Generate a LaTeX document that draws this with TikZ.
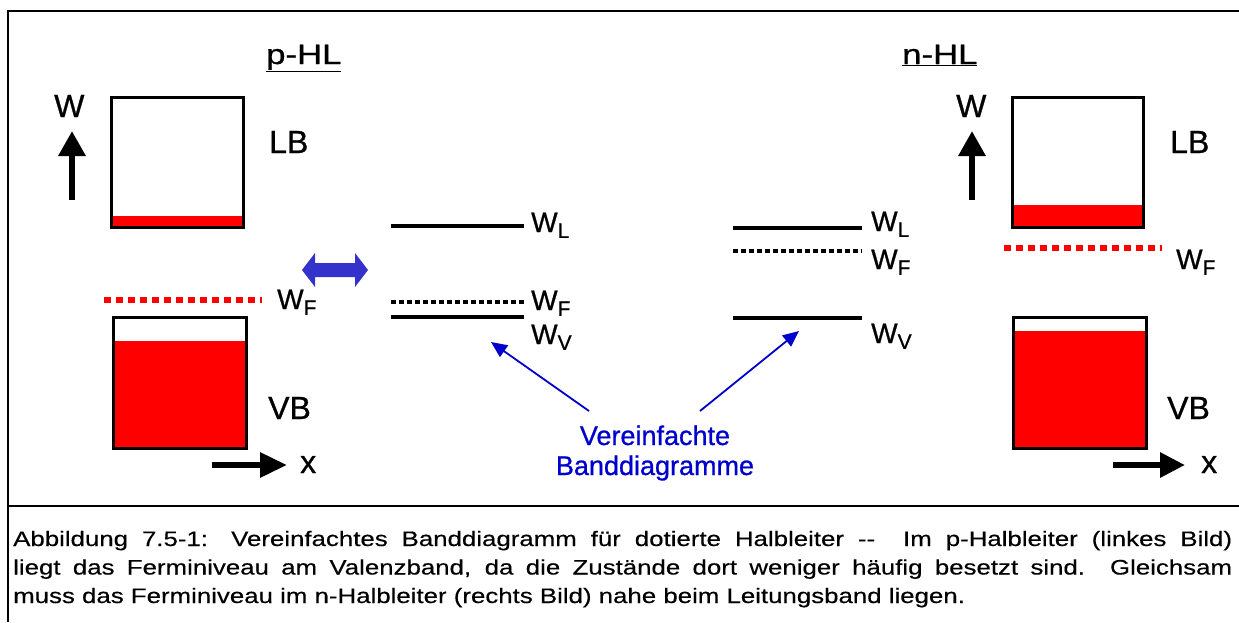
\documentclass[tikz,border=0pt]{standalone}
\usepackage{fontspec}
\setmainfont{Liberation Sans}
\newfontfamily\diagfont{Liberation Sans}[FakeBold=0.8]
\newfontfamily\headfont{Liberation Sans}[FakeBold=0.8,FakeStretch=1.24]
\newfontfamily\capfont{Liberation Sans}[FakeBold=0.4,FakeStretch=1.23]
\usetikzlibrary{arrows.meta}
\definecolor{fillred}{RGB}{255,0,0}
\definecolor{arrowblue}{RGB}{0,0,204}
\definecolor{blockblue}{RGB}{51,51,204}
\newcommand{\lvlsub}[1]{\textsubscript{\fontsize{21}{21}\selectfont #1}}
\begin{document}
\begin{tikzpicture}[x=1pt,y=-1pt,
  frame/.style={line width=2.6pt,black},
  bandbox/.style={line width=3pt,black},
  level/.style={line width=4.5pt,black},
  fermidots/.style={line width=4.5pt,black,dash pattern=on 5pt off 3pt},
  redfermi/.style={line width=6pt,fillred,dash pattern=on 6.5pt off 5.5pt},
  axis/.style={line width=6pt,black,-{Triangle[length=25pt,width=26pt]}},
  pointer/.style={line width=1.8pt,arrowblue,-{Triangle[length=16pt,width=14pt]}},
  big/.style={inner sep=0pt,anchor=base west,font=\diagfont\fontsize{32}{32}\selectfont},
  lvl/.style={inner sep=0pt,anchor=base west,font=\diagfont\fontsize{28}{28}\selectfont},
  title/.style={inner sep=0pt,anchor=base west,font=\headfont\fontsize{28}{28}\selectfont},
]
\useasboundingbox (0,0) rectangle (1239,622);

% outer frame and caption separator
\draw[frame] (7,11) -- (1239,11);
\draw[frame] (8,10) -- (8,622);
\draw[frame] (7,506) -- (1239,506);

% ---------------- p-type semiconductor ----------------
\node[title] (ptitle) at (266,64) {\underline{p-HL}};
\fill[fillred] (111,216) rectangle (243,227);
\draw[bandbox] (111,97) rectangle (243,227);
\node[big] (pLB) at (269,153) {LB};
\fill[fillred] (113,341) rectangle (246,448);
\draw[bandbox] (113,317) rectangle (246,448);
\node[big] (pVB) at (268,419) {VB};
\node[big] (pW) at (54,117) {W};
\coordinate (pWa) at (72,200);
\coordinate (pWb) at (72,131);
\draw[axis] (pWa) -- (pWb);
\coordinate (pXa) at (212,465);
\coordinate (pXb) at (287,465);
\draw[axis,-{Triangle[length=27pt,width=24pt]}] (pXa) -- (pXb);
\node[big] (pX) at (300,473) {x};
\coordinate (pFa) at (104,300);
\coordinate (pFb) at (262,300);
\draw[redfermi] (pFa) -- (pFb);
\node[lvl] (pWF) at (277,309) {W\lvlsub{F}};

% double block arrow between band picture and simplified diagram
\fill[blockblue] (302,270) -- (315,253) -- (315,263) -- (355,263) -- (355,253)
  -- (368,270) -- (355,287) -- (355,277) -- (315,277) -- (315,287) -- cycle;

% simplified p-type diagram
\coordinate (pLa) at (391,226);
\coordinate (pLb) at (524,226);
\draw[level] (pLa) -- (pLb);
\node[lvl] (pWL) at (531,232) {W\lvlsub{L}};
\coordinate (pSFa) at (391,302);
\coordinate (pSFb) at (524,302);
\draw[fermidots] (pSFa) -- (pSFb);
\node[lvl] (pWF2) at (531,310) {W\lvlsub{F}};
\coordinate (pVa) at (391,317);
\coordinate (pVb) at (524,317);
\draw[level] (pVa) -- (pVb);
\node[lvl] (pWV) at (531,344) {W\lvlsub{V}};

% ---------------- n-type semiconductor ----------------
\node[title] (ntitle) at (902,64) {\underline{n-HL}};
\fill[fillred] (1012,205) rectangle (1143,227);
\draw[bandbox] (1012,97) rectangle (1143,227);
\node[big] (nLB) at (1170,153) {LB};
\fill[fillred] (1013,331) rectangle (1146,448);
\draw[bandbox] (1013,317) rectangle (1146,448);
\node[big] (nVB) at (1167,419) {VB};
\node[big] (nW) at (956,117) {W};
\coordinate (nWa) at (972,200);
\coordinate (nWb) at (972,131);
\draw[axis] (nWa) -- (nWb);
\coordinate (nXa) at (1113,465);
\coordinate (nXb) at (1185,465);
\draw[axis,-{Triangle[length=25pt,width=24pt]}] (nXa) -- (nXb);
\node[big] (nX) at (1201,473) {x};
\coordinate (nFa) at (1004,248);
\coordinate (nFb) at (1162,248);
\draw[redfermi] (nFa) -- (nFb);
\node[lvl] (nWF) at (1176,269) {W\lvlsub{F}};

% simplified n-type diagram
\coordinate (nLa) at (733,228);
\coordinate (nLb) at (862,228);
\draw[level] (nLa) -- (nLb);
\node[lvl] (nWL) at (871,231) {W\lvlsub{L}};
\coordinate (nSFa) at (733,251);
\coordinate (nSFb) at (862,251);
\draw[fermidots] (nSFa) -- (nSFb);
\node[lvl] (nWF2) at (871,269) {W\lvlsub{F}};
\coordinate (nVa) at (733,318);
\coordinate (nVb) at (862,318);
\draw[level] (nVa) -- (nVb);
\node[lvl] (nWV) at (871,343) {W\lvlsub{V}};

% label and pointers to the simplified diagrams
\node[inner sep=0pt,align=center,text=arrowblue,font=\diagfont\fontsize{27}{30}\selectfont,anchor=base]
  (simple) at (655,475) {Vereinfachte\\Banddiagramme};
\coordinate (ptrL) at (491,342);
\coordinate (ptrR) at (799,331);
\coordinate (ptrLs) at (589,411);
\coordinate (ptrRs) at (700,411);
\draw[pointer] (ptrLs) -- (ptrL);
\draw[pointer] (ptrRs) -- (ptrR);

% caption
\node[inner sep=0pt,anchor=base west] (caption) at (13,546)
  {\parbox[t]{1219pt}{\capfont\fontsize{21}{28.5}\selectfont
  Abbildung 7.5-1: Vereinfachtes Banddiagramm für dotierte Halbleiter -{}-~ Im p-Halbleiter (linkes Bild)\linebreak
  liegt das Ferminiveau am Valenzband, da die Zustände dort weniger häufig besetzt sind. Gleichsam\linebreak
  muss das Ferminiveau im n-Halbleiter (rechts Bild) nahe beim Leitungsband liegen.}};
\end{tikzpicture}
\end{document}
